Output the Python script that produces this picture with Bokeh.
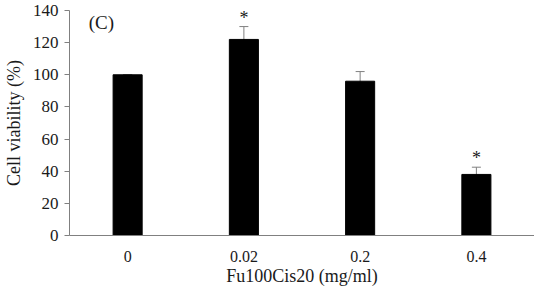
from bokeh.plotting import figure
from bokeh.models import ColumnDataSource, FactorRange, Range1d, Whisker, TeeHead, FixedTicker
from bokeh.core.properties import value
from bokeh.embed import file_html
from bokeh.resources import INLINE

doses = ["0", "0.02", "0.2", "0.4"]
viability = [100, 122, 96, 38]
err = [0, 8, 6, 4.5]
sig_doses = ["0.02", "0.4"]
sig_marks = ["*", "*"]
y_ticks = [0, 20, 40, 60, 80, 100, 120, 140]

lower = [v - e for v, e in zip(viability, err)]
upper = [v + e for v, e in zip(viability, err)]
src = ColumnDataSource(dict(x=doses, top=viability, lower=lower, upper=upper))
sig_upper = [upper[doses.index(d)] for d in sig_doses]
sig_src = ColumnDataSource(dict(x=sig_doses, y=sig_upper, t=sig_marks))

FONT = "Liberation Serif"
TXT = "#1a1a1a"
GRAY = "#808080"

p = figure(width=534, height=288, output_backend="svg", toolbar_location=None,
           x_range=FactorRange(factors=doses, range_padding=0),
           y_range=Range1d(0, 140))
p.min_border_left = 64
p.min_border_right = 0
p.min_border_top = 10
p.min_border_bottom = 48
p.outline_line_color = None
p.grid.visible = False

p.vbar(x="x", top="top", width=0.25, source=src, fill_color="black", line_color="black")

wh = Whisker(base="x", lower="lower", upper="upper", source=src,
             line_color=GRAY, line_width=1,
             upper_head=TeeHead(size=9, line_color=GRAY, line_width=1),
             lower_head=TeeHead(size=9, line_color=GRAY, line_width=1))
p.add_layout(wh)

p.text(x="x", y="y", text="t", source=sig_src, text_align="center", text_baseline="bottom",
       y_offset=1, text_font=value(FONT), text_font_size="18px", text_color=TXT)

p.text(x=["0"], y=[140], text=["(C)"], x_offset=-39, y_offset=12, text_align="left",
       text_baseline="middle", text_font=value(FONT), text_font_size="19px", text_color=TXT)

p.yaxis.ticker = FixedTicker(ticks=y_ticks)
p.yaxis.axis_label = "Cell viability (%)"
p.xaxis.axis_label = "Fu100Cis20 (mg/ml)"
for ax in (p.xaxis, p.yaxis):
    ax.axis_line_color = GRAY
    ax.major_tick_line_color = GRAY
    ax.minor_tick_line_color = None
    ax.major_label_text_font = FONT
    ax.major_label_text_font_size = "16px"
    ax.major_label_text_color = TXT
    ax.axis_label_text_font = FONT
    ax.axis_label_text_font_size = "18px"
    ax.axis_label_text_font_style = "normal"
    ax.axis_label_text_color = TXT
p.yaxis.major_label_text_font_size = "17px"
p.yaxis.major_tick_out = 5
p.yaxis.major_tick_in = 0
p.yaxis.major_label_standoff = 6
p.yaxis.axis_label_standoff = 6
p.xaxis.major_tick_line_color = None
p.xaxis.major_label_standoff = 9
p.xaxis.axis_label_standoff = 1

open("out.html", "w").write(file_html(p, INLINE))
